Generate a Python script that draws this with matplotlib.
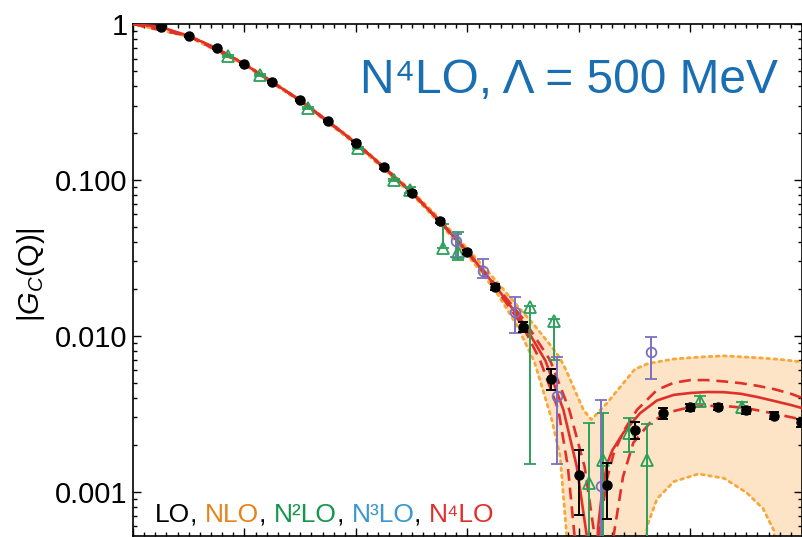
import matplotlib
matplotlib.use('Agg')
import matplotlib.pyplot as plt
from matplotlib.ticker import MultipleLocator, LogLocator, NullFormatter

plt.rcParams['font.family'] = ['Liberation Sans', 'DejaVu Sans']
plt.rcParams['mathtext.fontset'] = 'custom'
plt.rcParams['mathtext.rm'] = 'Liberation Sans'
plt.rcParams['mathtext.it'] = 'Liberation Sans:italic'

# --- data (Q in fm^-1, |G_C|) ---
# central N4LO curve
s_q = [0, 0.25, 0.5, 0.75, 1.0, 1.25, 1.5, 1.75, 2.0, 2.25, 2.5, 2.75, 3.0, 3.25,
       3.5, 3.7, 3.86, 3.98, 4.07, 4.1, 4.14, 4.17, 4.2, 4.25, 4.3, 4.4, 4.55,
       4.7, 4.85, 5.0, 5.15, 5.3, 5.45, 5.6, 5.75, 5.9, 6.0]
s_g = [1.0, 0.957, 0.838, 0.700, 0.553, 0.424, 0.323, 0.238, 0.172, 0.121, 0.083,
       0.0545, 0.0345, 0.0209, 0.0121, 0.0069, 0.00335, 0.00145, 5.2e-4, 1e-4,
       1e-4, 5.8e-4, 9e-4, 1.5e-3, 1.85e-3, 2.4e-3, 3.2e-3, 3.85e-3, 4.18e-3,
       4.3e-3, 4.36e-3, 4.35e-3, 4.25e-3, 4.05e-3, 3.82e-3, 3.6e-3, 3.44e-3]

# dashed curves
d1_q = [0, 0.5, 1.0, 1.5, 2.0, 2.5, 2.75, 3.0, 3.25, 3.5, 3.65, 3.815, 3.9, 3.96,
        3.99, 4.12, 4.15, 4.19, 4.25, 4.31, 4.4, 4.52, 4.7, 4.85, 5.0, 5.15, 5.3,
        5.45, 5.6, 5.75, 5.9, 6.0]
d1_g = [1.0, 0.838, 0.553, 0.323, 0.172, 0.083, 0.0543, 0.0342, 0.0204, 0.0114,
        0.0070, 0.00335, 0.00145, 5.2e-4, 1e-4, 1e-4, 3e-4, 6e-4, 1.2e-3, 1.75e-3,
        2.45e-3, 3.35e-3, 4.5e-3, 5.0e-3, 5.2e-3, 5.2e-3, 5.1e-3, 4.97e-3, 4.78e-3,
        4.55e-3, 4.25e-3, 4.0e-3]
d2_q = [0, 0.5, 1.0, 1.5, 2.0, 2.5, 2.75, 3.0, 3.25, 3.5, 3.74, 3.913, 4.05, 4.14,
        4.17, 4.26, 4.31, 4.395, 4.487, 4.637, 4.789, 4.996, 5.15, 5.29, 5.5,
        5.743, 6.0]
d2_g = [1.0, 0.838, 0.553, 0.323, 0.172, 0.0832, 0.0548, 0.0348, 0.0213, 0.0128,
        0.0070, 0.00335, 0.00145, 5.2e-4, 1e-4, 1e-4, 5.2e-4, 1.25e-3, 2.06e-3,
        2.77e-3, 3.21e-3, 3.49e-3, 3.55e-3, 3.56e-3, 3.44e-3, 3.18e-3, 2.9e-3]

# uncertainty band
band_q = [0, 0.5, 1.0, 1.5, 2.0, 2.5, 2.75, 3.0, 3.25, 3.44, 3.6, 3.75, 3.83, 3.89,
          3.95, 4.04, 4.11, 4.25, 4.5, 4.61, 4.7, 4.85, 5.07, 5.3, 5.5, 5.65, 5.75,
          5.76, 5.85, 6.0]
band_hi = [1.0, 0.848, 0.56, 0.327, 0.175, 0.085, 0.0565, 0.0362, 0.0228, 0.0158,
           0.0117, 0.0086, 0.0072, 0.0059, 0.0047, 0.00335, 0.0029, 0.0037, 0.0061,
           0.0066, 0.0068, 0.0071, 0.0073, 0.00744, 0.0073, 0.0072, 0.0071, 0.0071,
           0.0070, 0.0068]
band_lo = [1.0, 0.828, 0.546, 0.318, 0.169, 0.081, 0.0527, 0.0330, 0.0195, 0.0118,
           0.0068, 0.0030, 0.0017, 5.2e-4, 1e-5, 1e-5, 1e-5, 1e-5, 1e-5, 6.0e-4,
           9.0e-4, 1.16e-3, 1.30e-3, 1.22e-3, 9.9e-4, 7.8e-4, 5.6e-4, 1e-5, 1e-5, 1e-5]

# experimental points
black_q = [0.25, 0.5, 0.75, 1.0, 1.25, 1.5, 1.75, 2.0, 2.25, 2.5, 2.75, 3.0, 3.25,
           3.5, 3.75, 4.0, 4.25, 4.5, 4.75, 5.0, 5.25, 5.5, 5.75, 5.99]
black_g = [0.957, 0.838, 0.702, 0.554, 0.425, 0.326, 0.239, 0.173, 0.121, 0.0826,
           0.0546, 0.0345, 0.0206, 0.01142, 0.0053, 0.00128, 0.00110, 0.00250,
           0.00319, 0.00347, 0.00349, 0.00332, 0.00308, 0.00278]
black_err = [0.008, 0.008, 0.008, 0.008, 0.007, 0.006, 0.005, 0.004, 0.003, 0.0022,
             0.0016, 0.0012, 0.001, 0.00085, 0.0008, 0.00057, 0.00043, 0.00032,
             0.00025, 0.00018, 0.00016, 0.00016, 0.00016, 0.00016]

green_q = [0.849, 1.142, 1.572, 2.015, 2.341, 2.48, 2.783, 2.918, 3.561, 3.776,
           4.092, 4.218, 4.451, 4.607, 5.085, 5.459]
green_g = [0.626, 0.471, 0.288, 0.160, 0.100, 0.0863, 0.0368, 0.0347, 0.01528,
           0.01248, 0.001137, 0.0016, 0.00238, 0.0016, 0.00383, 0.00349]
green_lo = [0.616, 0.463, 0.283, 0.157, 0.098, 0.0822, 0.0368, 0.0306, 0.00151,
            0.00702, 1e-5, 1e-5, 0.00179, 1e-5, 0.00363, 0.00319]
green_hi = [0.636, 0.479, 0.293, 0.163, 0.102, 0.0905, 0.0520, 0.0465, 0.0155,
            0.0129, 0.00275, 0.00319, 0.00297, 0.00273, 0.00414, 0.00379]

purple_q = [2.897, 3.142, 3.426, 3.806, 4.197, 4.643]
purple_g = [0.0406, 0.0261, 0.01432, 0.00412, 0.00109, 0.00782]
purple_lo = [0.0319, 0.0235, 0.0104, 0.00151, 1e-5, 0.0053]
purple_hi = [0.0449, 0.0310, 0.01786, 0.00726, 0.00389, 0.00981]

ytick_vals = [0.001, 0.01, 0.1, 1]
ytick_labels = ['0.001', '0.010', '0.100', '1']

orders = ['LO', 'NLO', 'N\u00b2LO', 'N\u00b3LO', 'N\u2074LO']
order_colors = ['black', '#e5841b', '#14974a', '#3a97d0', '#e0302a']

RED = '#e0302a'
ORANGE = '#f8a73a'
GREEN = '#2ca05a'
PURPLE = '#7a70c0'

fig = plt.figure(figsize=(8.03, 5.37), dpi=100)
ax = fig.add_axes([133 / 803, 1 / 537, 669 / 803, 512 / 537])
ax.set_yscale('log')
ax.set_xlim(0, 6)
ax.set_ylim(5.2e-4, 1)

# band
ax.fill_between(band_q, band_lo, band_hi, color='#fde4c6', lw=0, zorder=1)
for b in (band_hi, band_lo):
    ax.plot(band_q, b, color=ORANGE, lw=2.0, ls=(0, (1, 1.6)),
            dash_capstyle='round', zorder=2)

# curves
ax.plot(s_q, s_g, color=RED, lw=1.9, zorder=3)
ax.plot(d1_q, d1_g, color=RED, lw=1.9, ls=(0, (4.5, 2.6)), zorder=3)
ax.plot(d2_q, d2_g, color=RED, lw=1.9, ls=(0, (4.5, 2.6)), zorder=3)

# data
ax.errorbar(black_q, black_g, yerr=black_err, fmt='o', color='black', ms=6.5,
             capsize=3.6, elinewidth=1.4, capthick=1.4, zorder=6)
g_err = [[g - lo for g, lo in zip(green_g, green_lo)],
         [hi - g for g, hi in zip(green_g, green_hi)]]
ax.errorbar(green_q, green_g, yerr=g_err, fmt='^', color=GREEN, mfc='none',
            mec=GREEN, ms=8, mew=1.3, capsize=4.5, elinewidth=1.4, capthick=1.4,
            zorder=5)
p_err = [[g - lo for g, lo in zip(purple_g, purple_lo)],
         [hi - g for g, hi in zip(purple_g, purple_hi)]]
ax.errorbar(purple_q, purple_g, yerr=p_err, fmt='o', color=PURPLE, mfc='none',
            mec=PURPLE, ms=7, mew=1.3, capsize=4.5, elinewidth=1.4, capthick=1.4,
            zorder=5)

# axes styling
ax.xaxis.set_major_locator(MultipleLocator(1))
ax.xaxis.set_minor_locator(MultipleLocator(0.1))
ax.set_yticks(ytick_vals, labels=ytick_labels)
ax.yaxis.set_minor_locator(LogLocator(subs=range(2, 10)))
ax.yaxis.set_minor_formatter(NullFormatter())
ax.tick_params(which='both', direction='in', top=True, right=True,
               labelbottom=False, width=1.0)
ax.tick_params(which='major', length=6, labelsize=21, pad=4)
ax.tick_params(which='minor', length=3)
for sp in ax.spines.values():
    sp.set_linewidth(1.2)

fig.text(31 / 803, 1 - 275 / 537, '|$G_C$(Q)|', rotation=90, ha='center',
         va='center', fontsize=21)
fig.text(778 / 803, 1 - 93 / 537, 'N\u2074LO, \u039b = 500 MeV', ha='right',
         va='baseline', fontsize=34.5, color='#1a6eb2')

# multi-coloured order list, commas in black
prev = fig.text(155 / 803, 1 - 522 / 537, orders[0], color=order_colors[0],
                fontsize=19, va='baseline')
for s, c in zip(orders[1:], order_colors[1:]):
    prev = ax.annotate(', ', xy=(1, 0), xycoords=prev, va='bottom', ha='left',
                       color='black', fontsize=19)
    prev = ax.annotate(s, xy=(1, 0), xycoords=prev, va='bottom', ha='left',
                       color=c, fontsize=19)

fig.savefig('out.png', dpi=100)
